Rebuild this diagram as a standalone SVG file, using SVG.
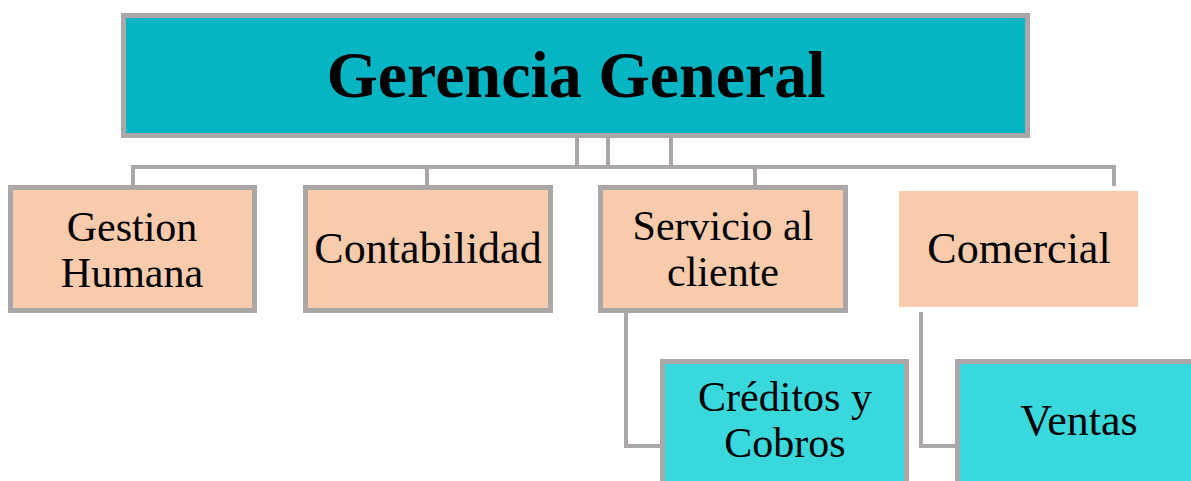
<svg xmlns="http://www.w3.org/2000/svg" width="1191" height="481" viewBox="0 0 1191 481">
<style>
.b{stroke:#ABA7A7;stroke-width:5}
.peach{fill:#F8CBAD}
.teal{fill:#05B5C3}
.lt{fill:#38D8DC}
.c{fill:none;stroke:#ABA7A7;stroke-width:4}
text{font-family:"Liberation Serif","Times New Roman",serif;fill:#000;text-anchor:middle;font-size:44px}
.m{font-size:42px}
.t{font-size:66px;font-weight:bold}
</style>
<rect width="1191" height="481" fill="#fff"/>
<g id="connectors">
<path class="c" d="M577 138V167M608 138V167M671 138V167M131 167H1116M133 167V186M427 167V186M755 167V186M1114 167V186"/>
<path class="c" d="M626 312V446H662M921 312V446H957"/>
</g>
<g id="gerencia">
<rect class="b teal" x="123.5" y="15.5" width="904" height="120"/>
<text class="t" x="576" y="97">Gerencia General</text>
</g>
<g id="gestion">
<rect class="b peach" x="10.5" y="187.5" width="244" height="123"/>
<text class="m" x="132" y="241">Gestion</text>
<text class="m" x="132" y="287">Humana</text>
</g>
<g id="contabilidad">
<rect class="b peach" x="305.5" y="187.5" width="245" height="123"/>
<text x="428" y="263">Contabilidad</text>
</g>
<g id="servicio">
<rect class="b peach" x="600.5" y="187.5" width="245" height="123"/>
<text class="m" x="723" y="240">Servicio al</text>
<text class="m" x="723" y="286">cliente</text>
</g>
<g id="comercial">
<rect class="peach" x="899" y="191" width="239" height="116"/>
<text x="1019" y="263">Comercial</text>
</g>
<g id="creditos">
<rect class="b lt" x="662.5" y="361.5" width="244" height="130"/>
<text class="m" x="785" y="411">Créditos y</text>
<text class="m" x="785" y="457">Cobros</text>
</g>
<g id="ventas">
<rect class="b lt" x="957.5" y="361.5" width="250" height="130"/>
<text x="1079" y="435">Ventas</text>
</g>
</svg>
